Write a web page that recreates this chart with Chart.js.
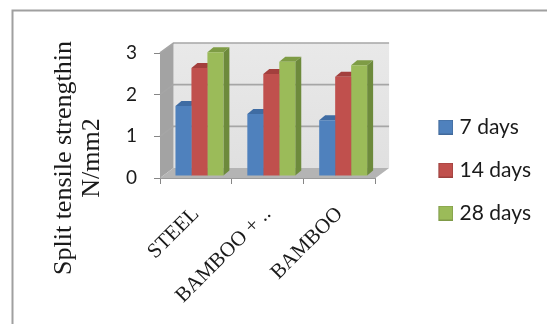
<!DOCTYPE html>
<html><head><meta charset="utf-8">
<style>html,body{margin:0;padding:0;background:#fff}#w{position:relative;width:547px;height:324px}</style>
<script src="https://cdn.jsdelivr.net/npm/chart.js@4"></script>
</head><body><div id="w"><canvas id="c" width="547" height="324"></canvas></div>
<script>
const categories = ["STEEL", "BAMBOO + ..", "BAMBOO"];
const days7 = [1.68, 1.49, 1.34];
const days14 = [2.59, 2.45, 2.38];
const days28 = [2.97, 2.74, 2.66];
const yTicks = [0, 1, 2, 3];
const yTitleLines = ["Split tensile strengthin", "N/mm2"];
const seriesNames = ["7 days", "14 days", "28 days"];

const fronts = ["#4f81bd", "#c0504d", "#9bbb59"];
const edges = ["#41699a", "#9c403e", "#7f9a48"];
const sides = ["#3a6191", "#8e3a38", "#6d8a3c"];
const tops = ["#3f6ca3", "#a33f3d", "#7e9c45"];
const DX = 13.5, DY = 10, BX = 3.5, BY = -2, bdx = 6, bdy = 5;

function swatch(i) {
  const cv = document.createElement("canvas");
  cv.width = 60; cv.height = 15;
  const c = cv.getContext("2d");
  c.fillStyle = fronts[i]; c.fillRect(45.5, 0.5, 14, 14);
  c.strokeStyle = edges[i]; c.lineWidth = 1; c.strokeRect(45.5, 0.5, 14, 14);
  return cv;
}

const walls = {
  id: "walls",
  afterLayout(ch) { ch.legend.top -= 18.5; ch.legend.bottom -= 18.5; },
  beforeDatasetsDraw(ch) {
    const c = ch.ctx, a = ch.chartArea, y = ch.scales.y;
    const l = a.left, r = a.right, t = a.top, b = a.bottom;
    c.save();
    const g = c.createLinearGradient(0, t - DY, 0, b - DY);
    g.addColorStop(0, "#e9e9e9"); g.addColorStop(1, "#e0e0e0");
    c.fillStyle = g; c.fillRect(l + DX, t - DY, r - l, b - t);
    c.fillStyle = "#a3a3a3";
    c.beginPath(); c.moveTo(l, b); c.lineTo(l + DX, b - DY); c.lineTo(l + DX, t - DY); c.lineTo(l, t); c.closePath(); c.fill();
    c.fillStyle = "#b4b4b4";
    c.beginPath(); c.moveTo(l, b); c.lineTo(r, b); c.lineTo(r + DX, b - DY); c.lineTo(l + DX, b - DY); c.closePath(); c.fill();
    c.strokeStyle = "#a6a6a6"; c.lineWidth = 1.6;
    yTicks.forEach(v => {
      if (v === 0) return;
      const p = y.getPixelForValue(v);
      c.beginPath(); c.moveTo(l, p); c.lineTo(l + DX, p - DY); c.lineTo(r + DX, p - DY); c.stroke();
    });
    c.restore();

    c.save();
    c.translate(BX, BY);
    ch.data.datasets.forEach((d, di) => {
      ch.getDatasetMeta(di).data.forEach(e => {
        const x1 = e.x + e.width / 2, x0 = e.x - e.width / 2, top = e.y, base = e.base;
        c.fillStyle = sides[di];
        c.beginPath(); c.moveTo(x1, top); c.lineTo(x1 + bdx, top - bdy); c.lineTo(x1 + bdx, base - bdy); c.lineTo(x1, base); c.closePath(); c.fill();
        c.fillStyle = tops[di];
        c.beginPath(); c.moveTo(x0, top); c.lineTo(x0 + bdx, top - bdy); c.lineTo(x1 + bdx, top - bdy); c.lineTo(x1, top); c.closePath(); c.fill();
      });
    });
    c.restore();
    c.save();
    c.translate(BX, BY);
  },
  afterDatasetsDraw(ch) { ch.ctx.restore(); },
  afterDraw(ch) {
    const c = ch.ctx;
    c.save();
    c.strokeStyle = "#a0a0a0"; c.lineWidth = 2;
    c.beginPath(); c.moveTo(12.5, 324); c.lineTo(12.5, 10.5); c.lineTo(547, 10.5); c.stroke();
    c.fillStyle = "#1a1a1a";
    c.font = "26px 'Liberation Serif'";
    c.textAlign = "center"; c.textBaseline = "middle";
    c.translate(64, 158); c.rotate(-Math.PI / 2);
    yTitleLines.forEach((s, i) => c.fillText(s, 0, i * 28));
    c.restore();
  }
};

new Chart(document.getElementById("c"), {
  type: "bar",
  data: {
    labels: categories,
    datasets: [days7, days14, days28].map((v, i) => ({
      label: seriesNames[i], data: v, backgroundColor: fronts[i],
      borderColor: edges[i], borderWidth: 0, clip: false,
      categoryPercentage: 0.667, barPercentage: 1
    }))
  },
  options: {
    responsive: false, animation: false,
    layout: { padding: { top: 53, left: 100, bottom: 0, right: 6 } },
    scales: {
      x: {
        grid: { drawOnChartArea: false, drawTicks: true, tickLength: 6, color: "#868686", offset: true },
        border: { color: "#9a9a9a" },
        afterFit(s) { s.height = 146; },
        ticks: { minRotation: 45, maxRotation: 45, padding: 18, color: "#1a1a1a", font: { family: "'Liberation Serif'", size: 21 } }
      },
      y: {
        min: 0, max: 3,
        grid: { drawOnChartArea: false, drawTicks: true, tickLength: 6, color: "#868686" },
        border: { color: "#9a9a9a" },
        afterFit(s) { s.width = 60; },
        ticks: { stepSize: 1, padding: 17, color: "#1a1a1a", font: { family: "Lato", size: 19 } }
      }
    },
    plugins: {
      tooltip: { enabled: false },
      legend: {
        display: true, position: "right", maxWidth: 400,
        labels: {
          usePointStyle: true, pointStyleWidth: 51.5, boxHeight: 15, padding: 22, color: "#1a1a1a",
          font: { family: "Lato", size: 21 },
          generateLabels(ch) {
            return Chart.defaults.plugins.legend.labels.generateLabels(ch).map((it, i) => {
              it.pointStyle = swatch(i); return it;
            });
          }
        }
      }
    }
  },
  plugins: [walls]
});
</script></body></html>
